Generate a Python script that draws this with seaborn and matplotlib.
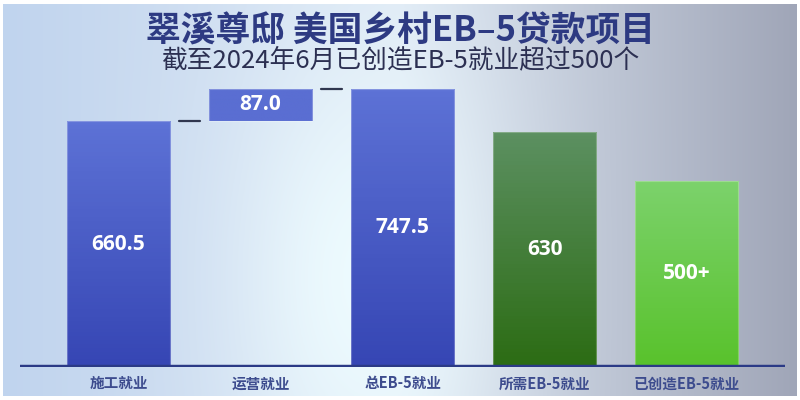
import numpy as np
import pandas as pd
import matplotlib
matplotlib.use('Agg')
import matplotlib.pyplot as plt
import seaborn as sns

# chart data
categories = ['施工就业', '运营就业', '总EB-5就业', '所需EB-5就业', '已创造EB-5就业']
values = [660.5, 87.0, 747.5, 630, 500]
bases = [0, 660.5, 0, 0, 0]
value_labels = ['660.5', '87.0', '747.5', '630', '500+']
title = '翠溪尊邸 美国乡村EB–5贷款项目'
subtitle = '截至2024年6月已创造EB-5就业超过500个'

# gradient colours per bar (top, bottom)
bar_colors = [('#5d72d6', '#3646b4'),
              ('#5a6ed2', '#5a6ed2'),
              ('#5d72d6', '#3646b4'),
              ('#5c9061', '#2c6c14'),
              ('#7cd26c', '#59c22c')]

df = pd.DataFrame({'category': categories, 'value': values, 'base': bases})
df['top'] = df['base'] + df['value']

sns.set_style('white')
plt.rcParams['font.family'] = ['Noto Sans CJK SC', 'DejaVu Sans']

fig = plt.figure(figsize=(8, 4), dpi=100)
fig.patch.set_facecolor('white')

# background gradient
bg = fig.add_axes([0.004, 0.01, 0.992, 0.98])
bg.set_axis_off()
H, W = 200, 400
xx, yy = np.meshgrid(np.linspace(0, 1, W), np.linspace(0, 1, H))
left = np.array([192, 212, 238]) / 255
mid = np.array([222, 232, 244]) / 255
right = np.array([160, 166, 184]) / 255
t = xx[..., None]
base_img = np.where(t < 0.5, left + (mid - left) * (t / 0.5), mid + (right - mid) * ((t - 0.5) / 0.5))
glow_col = np.array([238, 252, 255]) / 255
w = 0.95 * np.exp(-(((xx - 0.46) / 0.16) ** 2 + ((yy - 0.7) / 0.6) ** 2))[..., None]
img = base_img * (1 - w) + glow_col * w
bg.imshow(np.clip(img, 0, 1), aspect='auto', extent=[0, 1, 0, 1])

ax = fig.add_axes([0.025, 0.0825, 0.956, 0.7175])
ax.patch.set_alpha(0)
sns.barplot(data=df, x='category', y='top', ax=ax, width=0.725, color='#5a6ed2', saturation=1)

for patch, b, v, (c_top, c_bot) in zip(ax.patches, df['base'], df['value'], bar_colors):
    patch.set_y(b)
    patch.set_height(v)
    x0 = patch.get_x()
    wd = patch.get_width()
    grad = np.array([matplotlib.colors.to_rgb(c_top), matplotlib.colors.to_rgb(c_bot)])
    grad = np.linspace(grad[0], grad[1], 64)[:, None, :]
    im = ax.imshow(grad, extent=[x0, x0 + wd, b, b + v], aspect='auto', origin='upper', zorder=2)
    im.set_clip_path(patch)
    patch.set_facecolor('none')
    patch.set_edgecolor((1, 1, 1, 0.25))
    patch.set_linewidth(0.8)
    patch.set_zorder(3)

# value labels
for i, (b, v, lab) in enumerate(zip(df['base'], df['value'], value_labels)):
    ax.text(i, b + v / 2, lab, ha='center', va='center', color='white',
            fontsize=15, fontweight='bold', family=['Open Sans', 'DejaVu Sans'], zorder=5)

# connector segments between the waterfall bars
ax.plot([0.5 - 0.075, 0.5 + 0.075], [df['top'][0]] * 2, color='#30374f', lw=1.6, zorder=4)
ax.plot([1.5 - 0.075, 1.5 + 0.075], [df['top'][1]] * 2, color='#30374f', lw=1.6, zorder=4)

ax.axhline(0, color='#2b3a86', lw=3.2, zorder=6, solid_capstyle='round')
ax.set_xlim(-0.693, 4.69)
ax.set_ylim(0, 771)
ax.set_xlabel('')
ax.set_ylabel('')
ax.set_yticks([])
ax.tick_params(axis='x', length=0, pad=6, labelsize=10.5, labelcolor='#3d4c8e')
for lab in ax.get_xticklabels():
    lab.set_fontweight('bold')
sns.despine(ax=ax, left=True, bottom=True)

fig.text(0.5, 0.922, title, ha='center', va='center', fontsize=25, fontweight='bold', color='#2d3a82')
fig.text(0.5, 0.848, subtitle, ha='center', va='center', fontsize=18.5, color='#2c3052')

fig.savefig('out.png', dpi=100)
